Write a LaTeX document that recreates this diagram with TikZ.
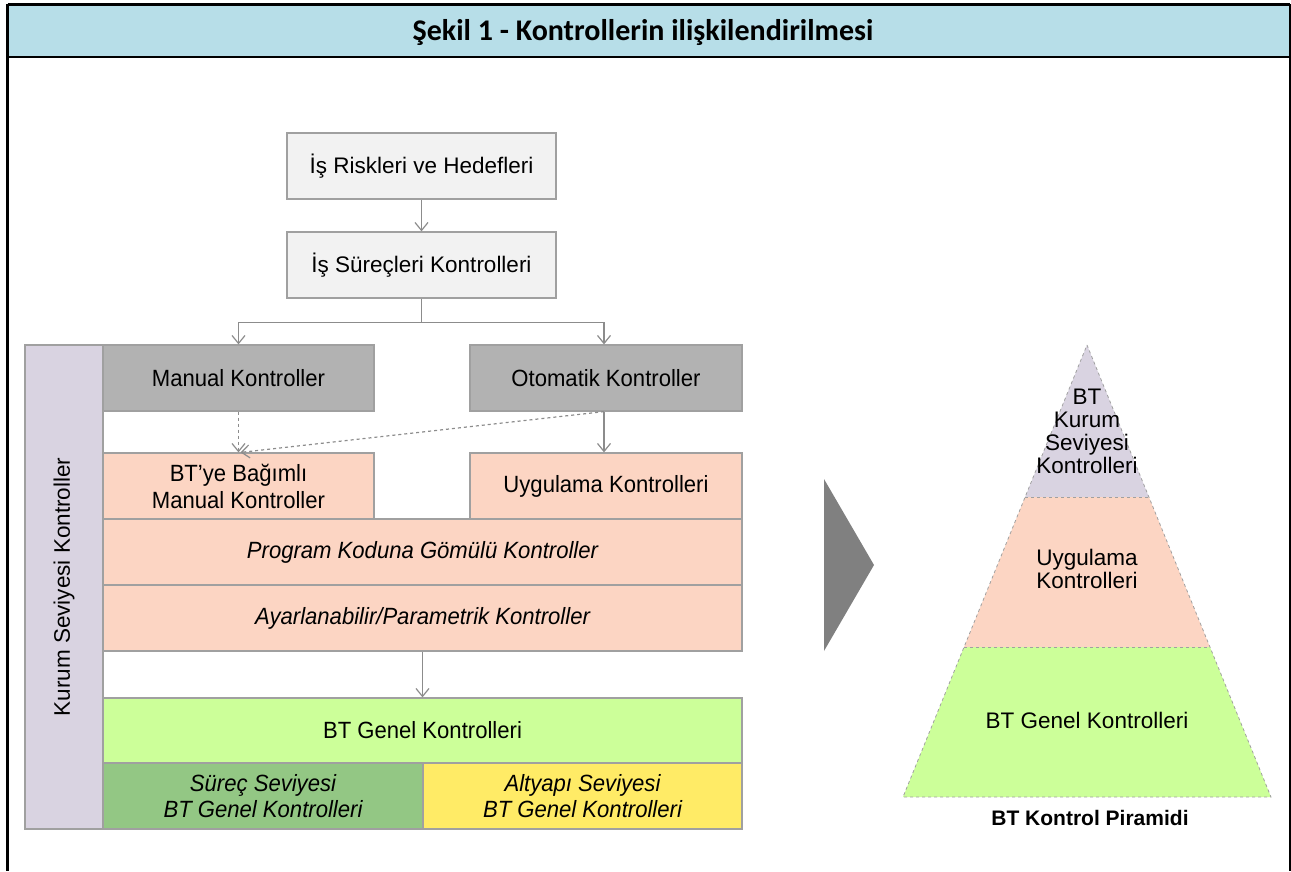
\documentclass[tikz,border=0pt]{standalone}
\usepackage{fontspec}
\setmainfont{Liberation Sans}
\newfontfamily\titlefont{Carlito}
\newfontfamily\narrowfont[FakeStretch=0.94]{Liberation Sans}
\usetikzlibrary{arrows.meta,calc}

\definecolor{headblue}{HTML}{B7DEE8}
\definecolor{paleg}{HTML}{F2F2F2}
\definecolor{midgray}{HTML}{B2B2B2}
\definecolor{lavender}{HTML}{D9D3E1}
\definecolor{peach}{HTML}{FCD5C3}
\definecolor{lightgreen}{HTML}{CCFF99}
\definecolor{leafgreen}{HTML}{93C784}
\definecolor{sunyellow}{HTML}{FFEB66}
\definecolor{edgegray}{HTML}{A0A0A0}
\definecolor{linegray}{HTML}{8C8C8C}
\definecolor{bigarrow}{HTML}{808080}

\tikzset{
  box/.style={draw=edgegray, line width=1.2pt, inner sep=0pt, align=center,
    font=\fontsize{22.5}{26}\selectfont},
  nbox/.style={box, font=\narrowfont\fontsize{23.5}{27}\selectfont},
  arr/.style={draw=linegray, line width=1.2pt, -{Straight Barb[length=8pt,width=13pt]}},
  plain/.style={draw=linegray, line width=1.2pt},
  pyr/.style={draw=edgegray, line width=0.8pt, dashed},
  pyrtext/.style={align=center, inner sep=0pt, font=\fontsize{22.5}{23}\selectfont}
}

\begin{document}
\begin{tikzpicture}[x=1pt,y=-1pt]
\useasboundingbox (0,0) rectangle (1291,871);

% header band and frame
\fill[headblue] (8,5) rectangle (1289,57);
\draw[line width=2.2pt] (7.5,4.5) -- (1289.5,4.5);
\draw[line width=2.5pt] (7.5,57) -- (1289.5,57);
\draw[line width=2.5pt] (7.5,4) -- (7.5,871);
\draw[line width=2.2pt] (1289.8,4) -- (1289.8,871);
\node[font=\titlefont\bfseries\fontsize{30}{32}\selectfont, inner sep=0pt] (title) at (643,32)
  {Şekil 1 - Kontrollerin ilişkilendirilmesi};

% flow boxes
\node[box, fill=paleg, minimum width=269pt, minimum height=66pt] (risk) at (421.5,166) {İş Riskleri ve Hedefleri};
\node[box, fill=paleg, minimum width=269pt, minimum height=66pt] (surec) at (421.5,265) {İş Süreçleri Kontrolleri};

\node[box, fill=lavender, rotate=90, minimum width=484pt, minimum height=78pt] (kurum) at (64,587) {Kurum Seviyesi Kontroller};

\node[nbox, fill=midgray, minimum width=271pt, minimum height=66pt] (manual) at (238.5,378) {Manual Kontroller};
\node[nbox, fill=midgray, minimum width=272pt, minimum height=66pt] (otomatik) at (606,378) {Otomatik Kontroller};

\node[nbox, fill=peach, minimum width=271pt, minimum height=66pt] (btye) at (238.5,486) {BT’ye Bağımlı\\Manual Kontroller};
\node[nbox, fill=peach, minimum width=272pt, minimum height=66pt] (uyg) at (606,486) {Uygulama Kontrolleri};
\node[nbox, fill=peach, minimum width=639pt, minimum height=66pt] (prog) at (422.5,552) {\itshape Program Koduna Gömülü Kontroller};
\node[nbox, fill=peach, minimum width=639pt, minimum height=66pt] (ayar) at (422.5,618) {\itshape Ayarlanabilir/Parametrik Kontroller};

\node[nbox, fill=lightgreen, minimum width=639pt, minimum height=65pt] (genel) at (422.5,730.5) {BT Genel Kontrolleri};
\node[nbox, fill=leafgreen, minimum width=320pt, minimum height=66pt, font=\narrowfont\itshape\fontsize{23.5}{25.5}\selectfont] (surecbt) at (263,796) {Süreç Seviyesi\\BT Genel Kontrolleri};
\node[nbox, fill=sunyellow, minimum width=319pt, minimum height=66pt, font=\narrowfont\itshape\fontsize{23.5}{25.5}\selectfont] (altyapi) at (582.5,796) {Altyapı Seviyesi\\BT Genel Kontrolleri};

% connectors
\draw[arr] (risk) -- (surec);
\draw[plain] (surec.south) -- ++(0,24) coordinate (split);
\draw[arr] (split) -| (manual.north);
\draw[arr] (split) -| ($(otomatik.north)+(-2,0)$);
\draw[arr, dashed] (manual.south) -- (btye.north);
\draw[arr, dashed] ($(otomatik.south)+(-2,0)$) -- ($(btye.north)+(2,0)$);
\draw[arr] ($(otomatik.south)+(-2,0)$) -- ($(uyg.north)+(-2,0)$);
\draw[arr] (ayar.south) -- (genel.north);

% transition arrow
\fill[bigarrow] (824,479) -- (874,565) -- (824,651) -- cycle;

% control pyramid
\coordinate (apex) at (1087,345);
\coordinate (l1) at (1025.1,497);
\coordinate (r1) at (1148.9,497);
\coordinate (l2) at (964.1,647);
\coordinate (r2) at (1209.9,647);
\coordinate (bl) at (903,797);
\coordinate (br) at (1271,797);
\fill[lavender] (apex) -- (r1) -- (l1) -- cycle;
\fill[peach] (l1) -- (r1) -- (r2) -- (l2) -- cycle;
\fill[lightgreen] (l2) -- (r2) -- (br) -- (bl) -- cycle;
\draw[pyr] (apex) -- (br) -- (bl) -- cycle;
\draw[pyr] (l1) -- (r1);
\draw[pyr] (l2) -- (r2);

\node[pyrtext] (ptop) at (1087,431) {BT\\Kurum\\Seviyesi\\Kontrolleri};
\node[pyrtext] (pmid) at (1087,569) {Uygulama\\Kontrolleri};
\node[pyrtext] (pbot) at (1087,720) {BT Genel Kontrolleri};
\node[inner sep=0pt, font=\bfseries\fontsize{21}{23}\selectfont] (ptitle) at (1090,818) {BT Kontrol Piramidi};
\end{tikzpicture}
\end{document}
